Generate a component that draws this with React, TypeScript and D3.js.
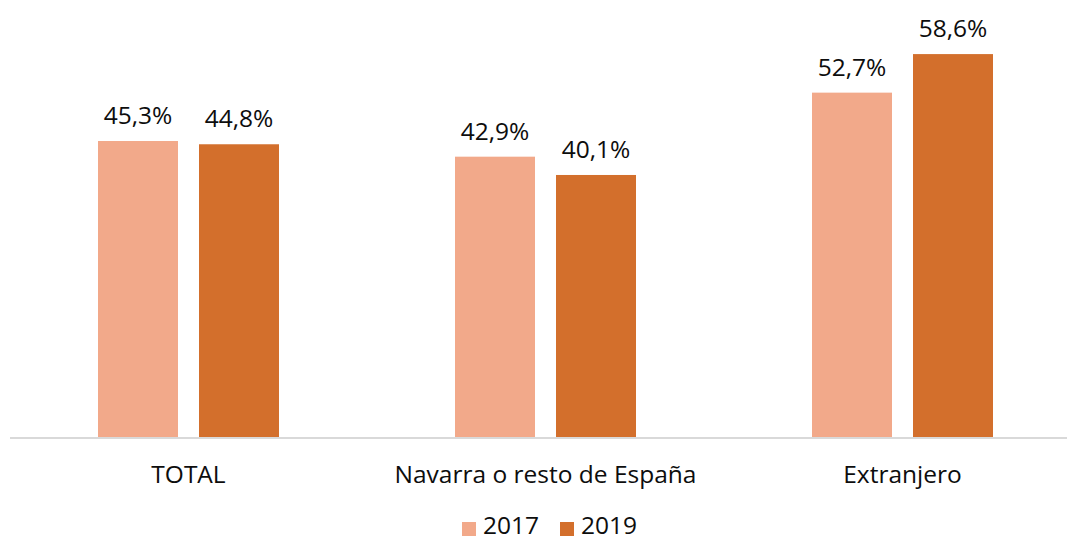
import { useEffect, useRef } from 'react'
import * as d3 from 'd3'

const categories = ['TOTAL', 'Navarra o resto de España', 'Extranjero']
const series = ['2017', '2019']
const values2017 = [45.3, 42.9, 52.7]
const values2019 = [44.8, 40.1, 58.6]
const colors = ['#F2A98A', '#D36F2C']

const W = 1067
const H = 540
const FONT = '"Open Sans", "Noto Sans", sans-serif'
const FS = 24.5

export default function App() {
  const svgRef = useRef<SVGSVGElement>(null)

  useEffect(() => {
    if (!svgRef.current) return
    const svg = d3.select(svgRef.current)
    svg.selectAll('*').remove()

    const left = 10, right = 1081, base = 437
    const x = d3.scaleBand().domain(categories).range([left, right])
    const inner = d3.scaleBand().domain(series).range([-90.5, 90.5]).paddingInner(21 / 101)
    const y = d3.scaleLinear().domain([0, 70]).range([base, base - 457.4])

    const data = categories.flatMap((c, i) => [
      { c, s: '2017', v: values2017[i], col: colors[0] },
      { c, s: '2019', v: values2019[i], col: colors[1] },
    ])

    const g = svg.append('g')
    g.selectAll('rect').data(data).join('rect')
      .attr('x', d => x(d.c)! + x.bandwidth() / 2 + inner(d.s)!)
      .attr('width', inner.bandwidth())
      .attr('y', d => y(d.v))
      .attr('height', d => base - y(d.v))
      .attr('fill', d => d.col)

    g.selectAll('text.val').data(data).join('text')
      .attr('class', 'val')
      .attr('x', d => x(d.c)! + x.bandwidth() / 2 + inner(d.s)! + inner.bandwidth() / 2)
      .attr('y', d => y(d.v) - 17)
      .attr('text-anchor', 'middle')
      .attr('font-family', FONT).attr('font-size', FS).attr('fill', '#0d0d0d')
      .text(d => d.v.toFixed(1).replace('.', ',') + '%')

    // baseline
    svg.append('line').attr('x1', left).attr('x2', W).attr('y1', base + 1).attr('y2', base + 1)
      .attr('stroke', '#d9d9d9').attr('stroke-width', 2)

    // category labels
    svg.selectAll('text.cat').data(categories).join('text')
      .attr('class', 'cat')
      .attr('x', d => x(d)! + x.bandwidth() / 2)
      .attr('y', 483)
      .attr('text-anchor', 'middle')
      .attr('font-family', FONT).attr('font-size', FS).attr('fill', '#0d0d0d')
      .text(d => d)

    // legend
    const lg = svg.append('g')
    const lx = [462, 560]
    series.forEach((s, i) => {
      lg.append('rect').attr('x', lx[i]).attr('y', 522).attr('width', 14).attr('height', 14).attr('fill', colors[i])
      lg.append('text').attr('x', lx[i] + 21).attr('y', 534)
        .attr('font-family', FONT).attr('font-size', FS).attr('fill', '#0d0d0d')
        .text(s)
    })
  }, [])

  return (
    <svg ref={svgRef} width={W} height={H}
      style={{ position: 'absolute', left: 0, top: 0, background: '#fff' }} />
  )
}
